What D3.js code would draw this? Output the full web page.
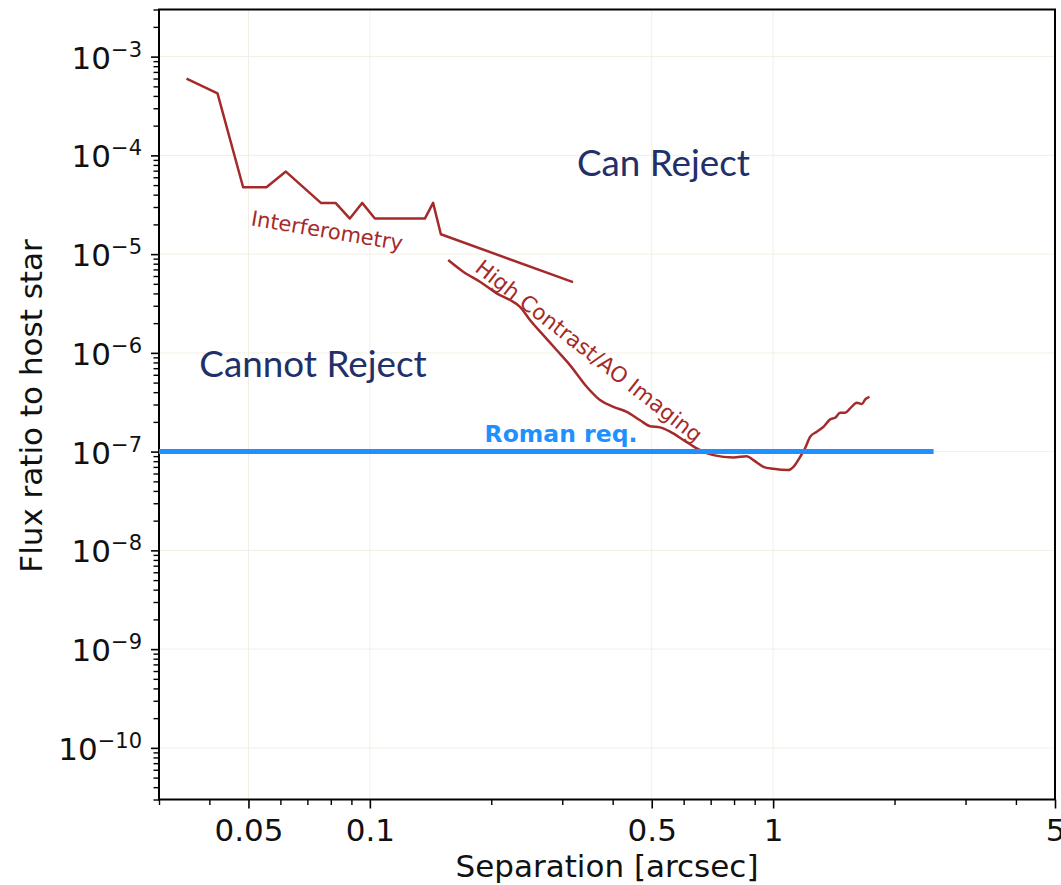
<!DOCTYPE html>
<html>
<head>
<meta charset="utf-8">
<script src="https://cdn.jsdelivr.net/npm/d3@7"></script>
<style>
  html, body { margin: 0; padding: 0; background: #fff; overflow: hidden; }
  svg { display: block; }
</style>
</head>
<body>
<svg id="chart" width="1061" height="885"></svg>
<script>
// Interferometric detection limit (separation in arcsec, flux ratio)
const interfSep  = [0.0351, 0.0419, 0.0485, 0.0554, 0.0619, 0.0756, 0.0822, 0.0892, 0.0957, 0.1029, 0.1369, 0.1435, 0.150, 0.319];
const interfFlux = [6.0e-4, 4.25e-4, 4.75e-5, 4.75e-5, 6.85e-5, 3.3e-5, 3.3e-5, 2.29e-5, 3.3e-5, 2.29e-5, 2.29e-5, 3.3e-5, 1.59e-5, 5.2e-6];

// High-contrast / adaptive-optics imaging limit
const hcSep  = [0.1564, 0.1704, 0.1875, 0.2063, 0.2226, 0.2357, 0.2495, 0.2692, 0.2904, 0.3135,
                0.3449, 0.3721, 0.4016, 0.4334, 0.4677, 0.4952, 0.5243, 0.5551, 0.5989, 0.6465,
                0.7108, 0.7969, 0.8603, 0.8935, 0.9461, 1.0016, 1.091, 1.123, 1.167, 1.200,
                1.235, 1.283, 1.333, 1.385, 1.425, 1.466, 1.509, 1.552, 1.613, 1.660, 1.692, 1.734];
const hcFlux = [8.71e-6, 6.63e-6, 5.25e-6, 4.01e-6, 3.43e-6, 2.93e-6, 2.15e-6, 1.51e-6, 1.07e-6, 7.52e-7,
                4.54e-7, 3.33e-7, 2.84e-7, 2.53e-7, 2.08e-7, 1.81e-7, 1.76e-7, 1.59e-7, 1.31e-7, 1.08e-7,
                9.22e-8, 8.73e-8, 9.0e-8, 8.2e-8, 7.02e-8, 6.69e-8, 6.50e-8, 7.02e-8, 8.86e-8, 1.08e-7,
                1.41e-7, 1.59e-7, 1.78e-7, 2.12e-7, 2.20e-7, 2.47e-7, 2.47e-7, 2.74e-7, 3.12e-7, 3.03e-7, 3.38e-7, 3.59e-7];

// Roman requirement level
const romanSep  = [0.03, 2.5];
const romanFlux = 1e-7;

// Axis ticks
const xTickValues = [0.05, 0.1, 0.5, 1, 5];
const xTickLabels = ["0.05", "0.1", "0.5", "1", "5"];
const yTickExponents = [-10, -9, -8, -7, -6, -5, -4, -3];

const svg = d3.select("#chart");
const plot = { left: 159, right: 1055, top: 9.5, bottom: 799.5 };

const x = d3.scaleLog().domain([0.03, 5]).range([plot.left, plot.right]);
const y = d3.scaleLog().domain([3e-11, 3e-3]).range([plot.bottom, plot.top]);

const font = "'DejaVu Sans', sans-serif";
const brown = "#a52a2a";
const blue = "#1e90ff";

svg.append("defs").append("clipPath").attr("id", "plotClip")
  .append("rect")
  .attr("x", plot.left).attr("y", plot.top)
  .attr("width", plot.right - plot.left).attr("height", plot.bottom - plot.top);

// Grid at major ticks
const grid = svg.append("g").attr("stroke", "#f1efe4").attr("stroke-width", 1);
xTickValues.forEach(v => {
  grid.append("line").attr("x1", x(v)).attr("x2", x(v)).attr("y1", plot.top).attr("y2", plot.bottom);
});
yTickExponents.forEach(e => {
  grid.append("line").attr("x1", plot.left).attr("x2", plot.right).attr("y1", y(Math.pow(10, e))).attr("y2", y(Math.pow(10, e)));
});

// Minor tick positions
const xMinor = [];
for (let d = -2; d <= 0; d++) for (let m = 1; m <= 9; m++) {
  const v = m * Math.pow(10, d);
  if (v >= 0.03 && v <= 5 && !xTickValues.includes(+v.toPrecision(3))) xMinor.push(v);
}
const yMinor = [];
for (let d = -11; d <= -3; d++) for (let m = 2; m <= 9; m++) {
  const v = m * Math.pow(10, d);
  if (v >= 3e-11 * 0.999 && v <= 3e-3 * 1.001) yMinor.push(v);
}

// Bottom axis
const xAxis = d3.axisBottom(x).tickValues(xTickValues).tickFormat((d, i) => xTickLabels[i]).tickSize(9).tickPadding(6);
const gx = svg.append("g").attr("transform", `translate(0,${plot.bottom})`).call(xAxis);
gx.select(".domain").remove();
gx.selectAll(".tick line").attr("stroke", "#000").attr("stroke-width", 1.6);
gx.selectAll(".tick text").attr("font-family", font).attr("font-size", 31).attr("fill", "#111").attr("dy", null).attr("y", 41);
const gxm = svg.append("g").attr("transform", `translate(0,${plot.bottom})`)
  .call(d3.axisBottom(x).tickValues(xMinor).tickFormat("").tickSize(5.5));
gxm.select(".domain").remove();
gxm.selectAll(".tick line").attr("stroke", "#000").attr("stroke-width", 1.4);

// Left axis
const yAxis = d3.axisLeft(y).tickValues(yTickExponents.map(e => Math.pow(10, e))).tickFormat("").tickSize(8);
const gy = svg.append("g").attr("transform", `translate(${plot.left},0)`).call(yAxis);
gy.select(".domain").remove();
gy.selectAll(".tick line").attr("stroke", "#000").attr("stroke-width", 1.6);
const gym = svg.append("g").attr("transform", `translate(${plot.left},0)`)
  .call(d3.axisLeft(y).tickValues(yMinor).tickFormat("").tickSize(5.5));
gym.select(".domain").remove();
gym.selectAll(".tick line").attr("stroke", "#000").attr("stroke-width", 1.4);

// Decade labels as 10^n
const yLabels = svg.append("g").attr("font-family", font).attr("fill", "#111");
yTickExponents.forEach(e => {
  const t = yLabels.append("text")
    .attr("x", 142).attr("y", y(Math.pow(10, e)) + 12)
    .attr("text-anchor", "end");
  t.append("tspan").attr("font-size", 31).text("10");
  t.append("tspan").attr("font-size", 21).attr("dy", -12).text("\u2212" + Math.abs(e));
});

// Frame
svg.append("rect")
  .attr("x", plot.left).attr("y", plot.top)
  .attr("width", plot.right - plot.left).attr("height", plot.bottom - plot.top)
  .attr("fill", "none").attr("stroke", "#000").attr("stroke-width", 2);

// Curves
const line = d3.line().x(d => x(d[0])).y(d => y(d[1]));
const curves = svg.append("g").attr("clip-path", "url(#plotClip)");

curves.append("path")
  .datum(interfSep.map((s, i) => [s, interfFlux[i]]))
  .attr("d", line).attr("fill", "none").attr("stroke", brown)
  .attr("stroke-width", 2.5).attr("stroke-linejoin", "round");

curves.append("path")
  .datum(hcSep.map((s, i) => [s, hcFlux[i]]))
  .attr("d", d3.line().x(d => x(d[0])).y(d => y(d[1])).curve(d3.curveMonotoneX))
  .attr("fill", "none").attr("stroke", brown)
  .attr("stroke-width", 2.5).attr("stroke-linejoin", "round");

curves.append("path")
  .datum(romanSep.map(s => [s, romanFlux]))
  .attr("d", line).attr("fill", "none").attr("stroke", blue).attr("stroke-width", 5);

// Annotations
svg.append("text").attr("x", 561).attr("y", 442.3)
  .attr("text-anchor", "middle").attr("font-family", font).attr("font-weight", "bold")
  .attr("font-size", 23.5).attr("fill", blue).text("Roman req.");

svg.append("text")
  .attr("transform", "translate(327,231) rotate(9.5)")
  .attr("text-anchor", "middle").attr("dominant-baseline", "central")
  .attr("font-family", font).attr("font-size", 21).attr("fill", brown)
  .text("Interferometry");

svg.append("text")
  .attr("transform", "translate(589,351) rotate(38)")
  .attr("text-anchor", "middle").attr("dominant-baseline", "central")
  .attr("font-family", font).attr("font-size", 21.5).attr("fill", brown)
  .text("High Contrast/AO Imaging");

svg.append("text").attr("x", 663.5).attr("y", 175.7)
  .attr("text-anchor", "middle").attr("font-family", "Lato, 'Open Sans', sans-serif")
  .attr("font-size", 36.8).attr("fill", "#22306a").text("Can Reject");

svg.append("text").attr("x", 313).attr("y", 376.7)
  .attr("text-anchor", "middle").attr("font-family", "Lato, 'Open Sans', sans-serif")
  .attr("font-size", 36.8).attr("fill", "#22306a").text("Cannot Reject");

// Axis titles
svg.append("text")
  .attr("transform", "translate(42,406) rotate(-90)")
  .attr("text-anchor", "middle").attr("font-family", font).attr("font-size", 31).attr("fill", "#111")
  .text("Flux ratio to host star");

svg.append("text").attr("x", 607).attr("y", 877)
  .attr("text-anchor", "middle").attr("font-family", font).attr("font-size", 31).attr("fill", "#111")
  .text("Separation [arcsec]");
</script>
</body>
</html>
